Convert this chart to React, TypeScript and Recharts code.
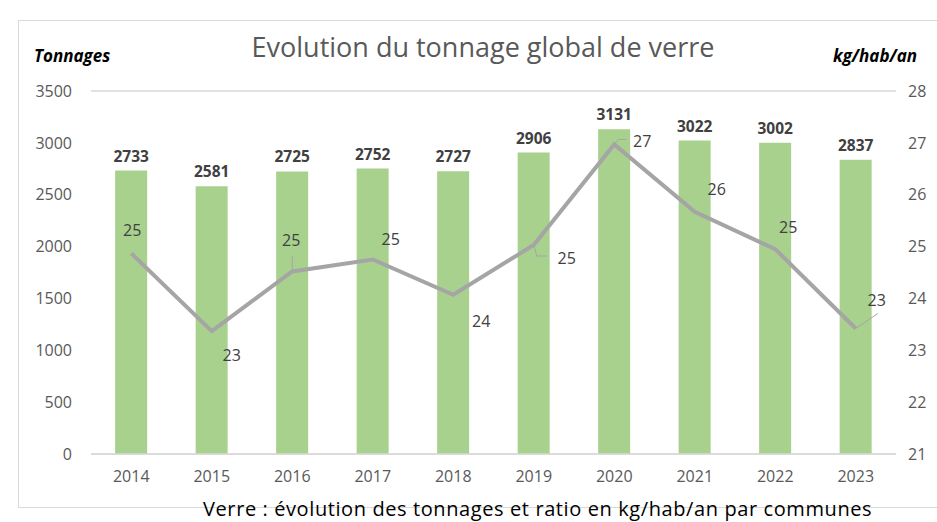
import { ComposedChart, Bar, Line, XAxis, YAxis, CartesianGrid, LabelList } from "recharts";

const years = ["2014", "2015", "2016", "2017", "2018", "2019", "2020", "2021", "2022", "2023"];
const tonnages = [2733, 2581, 2725, 2752, 2727, 2906, 3131, 3022, 3002, 2837];
const ratio = [24.87, 23.37, 24.52, 24.75, 24.07, 25.03, 26.97, 25.67, 24.95, 23.42];
const leftTicks = [0, 500, 1000, 1500, 2000, 2500, 3000, 3500];
const rightTicks = [21, 22, 23, 24, 25, 26, 27, 28];

// where Excel put the ratio labels, relative to the point
const labelOffsets = [
  { dx: 1, dy: -23, leader: [] as number[][] },
  { dx: 20, dy: 24, leader: [] },
  { dx: -1, dy: -31, leader: [[0, 0], [0, -15]] },
  { dx: 18, dy: -21, leader: [] },
  { dx: 28, dy: 26, leader: [] },
  { dx: 33, dy: 13, leader: [[0, 0], [3, 11], [13, 11]] },
  { dx: 28, dy: -3, leader: [[0, 0], [4, -5], [12, -5]] },
  { dx: 22, dy: -23, leader: [] },
  { dx: 13, dy: -22, leader: [] },
  { dx: 21, dy: -29, leader: [[0, 0], [22, -15]] },
];

const data = years.map((year, i) => ({ year, tonnage: tonnages[i], ratio: ratio[i] }));

const FONT = "'Open Sans', sans-serif";
const GREY = "#595959";

function RatioLabel(props: any) {
  const { x, y, value, index } = props;
  const o = labelOffsets[index];
  return (
    <g>
      {o.leader.length > 1 && (
        <polyline
          points={o.leader.map((p) => `${x + p[0]},${y + p[1]}`).join(" ")}
          fill="none"
          stroke="#a5a5a5"
          strokeWidth={1}
        />
      )}
      <text
        x={x + o.dx}
        y={y + o.dy}
        textAnchor="middle"
        dominantBaseline="central"
        fontSize={16}
        fontFamily={FONT}
        fill="#404040"
      >
        {Math.round(value)}
      </text>
    </g>
  );
}

export default function App() {
  return (
    <div style={{ position: "absolute", left: 0, top: 0, width: 937, height: 522, background: "#fff", fontFamily: FONT, overflow: "hidden" }}>
      <div
        style={{
          position: "absolute",
          left: 18,
          top: 20,
          width: 940,
          height: 486,
          border: "1px solid #d9d9d9",
        }}
      />
      <div style={{ position: "absolute", left: 0, width: 966, top: 28, textAlign: "center", fontSize: 27, color: GREY }}>
        Evolution du tonnage global de verre
      </div>
      <div style={{ position: "absolute", left: 34, top: 44, fontSize: 17, fontWeight: 700, fontStyle: "italic", color: "#000" }}>
        Tonnages
      </div>
      <div style={{ position: "absolute", left: 833, top: 44, fontSize: 17, fontWeight: 700, fontStyle: "italic", color: "#000" }}>
        kg/hab/an
      </div>
      <ComposedChart
        width={937}
        height={522}
        data={data}
        margin={{ top: 91, right: 0, bottom: 38, left: 0 }}
        barCategoryGap="30%"
        style={{ position: "absolute", left: 0, top: 0 }}
      >
        <CartesianGrid vertical={false} stroke="#d9d9d9" strokeWidth={1.5} />
        <XAxis
          dataKey="year"
          height={30}
          tickSize={0}
          tickMargin={17}
          axisLine={{ stroke: "#d9d9d9", strokeWidth: 1.5 }}
          tick={{ fontSize: 16, fill: GREY, fontFamily: FONT }}
        />
        <YAxis
          yAxisId="left"
          width={91}
          domain={[0, 3500]}
          ticks={leftTicks}
          tickSize={0}
          tickMargin={19}
          axisLine={false}
          tick={{ fontSize: 16, fill: GREY, fontFamily: FONT }}
        />
        <YAxis
          yAxisId="right"
          orientation="right"
          width={41}
          domain={[21, 28]}
          ticks={rightTicks}
          tickSize={0}
          tickMargin={12}
          axisLine={false}
          tick={{ fontSize: 16, fill: GREY, fontFamily: FONT, textAnchor: "start" }}
        />
        <Bar yAxisId="left" dataKey="tonnage" fill="#a9d18e" isAnimationActive={false}>
          <LabelList
            dataKey="tonnage"
            position="top"
            offset={9}
            style={{ fontSize: 15.5, fontWeight: 700, fill: "#404040", fontFamily: FONT }}
          />
        </Bar>
        <Line
          yAxisId="right"
          dataKey="ratio"
          stroke="#a5a5a5"
          strokeWidth={4}
          dot={false}
          activeDot={false}
          isAnimationActive={false}
        >
          <LabelList dataKey="ratio" content={RatioLabel} />
        </Line>
      </ComposedChart>
      <div style={{ position: "absolute", left: 203, top: 497, fontSize: 20, letterSpacing: 0.6, lineHeight: "24px", color: "#000", whiteSpace: "nowrap" }}>
        Verre : évolution des tonnages et ratio en kg/hab/an par communes
      </div>
    </div>
  );
}
